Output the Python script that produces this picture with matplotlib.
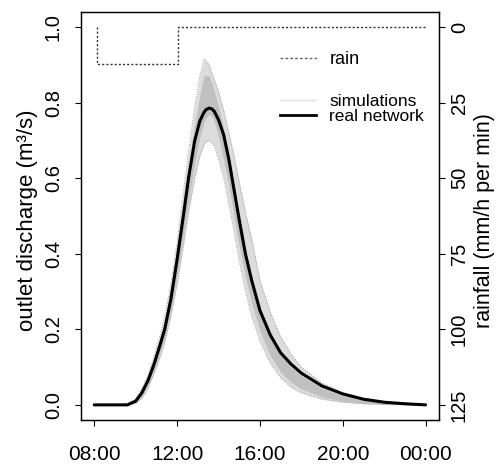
import matplotlib
matplotlib.use("Agg")
import matplotlib.pyplot as plt
from matplotlib.lines import Line2D

plt.rcParams["font.family"] = ["Liberation Sans", "DejaVu Sans"]

# time in hours (24 = midnight)
hours = [8.0, 9.0, 9.6, 10.0, 10.3, 10.6, 10.9, 11.2, 11.4, 11.7, 12.0, 12.3,
         12.55, 12.85, 13.1, 13.3, 13.4, 13.55, 13.7, 13.8, 14.0, 14.25,
         14.5, 14.75, 15.0, 15.3, 15.6, 16.0, 16.5, 17.0, 17.5, 18.0, 19.0,
         20.0, 21.0, 22.0, 23.0, 24.0]

# real network discharge (m3/s)
real_network = [0.0, 0.0, 0.0, 0.010, 0.032, 0.065, 0.11, 0.163, 0.20, 0.28,
                0.385, 0.50, 0.60, 0.70, 0.752, 0.775, 0.782, 0.786, 0.783,
                0.777, 0.755, 0.715, 0.65, 0.57, 0.49, 0.40, 0.33, 0.25,
                0.185, 0.138, 0.108, 0.084, 0.050, 0.029, 0.015, 0.007,
                0.003, 0.0]

# envelope of the simulations
sim_upper = [0.0, 0.0, 0.003, 0.015, 0.042, 0.08, 0.13, 0.19, 0.235, 0.32,
             0.43, 0.56, 0.67, 0.79, 0.87, 0.915, 0.912, 0.90, 0.875, 0.86,
             0.83, 0.78, 0.72, 0.66, 0.59, 0.51, 0.44, 0.33, 0.245, 0.18,
             0.135, 0.10, 0.058, 0.033, 0.018, 0.009, 0.004, 0.0]
sim_lower = [0.0, 0.0, 0.0, 0.004, 0.018, 0.045, 0.085, 0.13, 0.165, 0.235,
             0.32, 0.42, 0.51, 0.60, 0.66, 0.69, 0.697, 0.70, 0.692, 0.685,
             0.65, 0.60, 0.53, 0.46, 0.38, 0.30, 0.235, 0.17, 0.11, 0.072,
             0.047, 0.032, 0.015, 0.007, 0.003, 0.001, 0.0, 0.0]

# dense part of the simulations
sim_core_hi = [0.0, 0.0, 0.002, 0.012, 0.036, 0.07, 0.117, 0.17, 0.21, 0.29,
               0.395, 0.515, 0.62, 0.74, 0.82, 0.87, 0.873, 0.87, 0.85, 0.83,
               0.79, 0.73, 0.66, 0.58, 0.50, 0.41, 0.335, 0.255, 0.185,
               0.135, 0.10, 0.077, 0.044, 0.024, 0.012, 0.005, 0.002, 0.0]
sim_core_lo = [0.0, 0.0, 0.0, 0.006, 0.024, 0.055, 0.095, 0.145, 0.18, 0.255,
               0.345, 0.45, 0.54, 0.64, 0.71, 0.75, 0.76, 0.77, 0.763, 0.75,
               0.71, 0.65, 0.58, 0.50, 0.42, 0.34, 0.27, 0.195, 0.13, 0.087,
               0.06, 0.042, 0.021, 0.010, 0.005, 0.002, 0.001, 0.0]

# rain (mm/h), step series
rain_hours = [8.15, 8.15, 12.05, 24.0]
rain_mm = [0, 12, 0, 0]

x_ticks = [8, 12, 16, 20, 24]
x_tick_labels = ["08:00", "12:00", "16:00", "20:00", "00:00"]
y_ticks = [0.0, 0.2, 0.4, 0.6, 0.8, 1.0]
rain_ticks = [0, 25, 50, 75, 100, 125]


def salvar_figura(nome_arquivo):
    plt.savefig(nome_arquivo, dpi=100)
    plt.close()


def grafico_hidrograma():
    fig = plt.figure(figsize=(4.97, 4.68))
    ax = fig.add_axes([0.163, 0.1026, 0.72, 0.8714])

    ax.fill_between(hours, sim_lower, sim_upper, color="#dcdcdc", lw=0)
    ax.fill_between(hours, sim_core_lo, sim_core_hi, color="#c0c0c0", lw=0)
    ax.plot(hours, sim_upper, color="#9a9a9a", lw=0.7, ls=(0, (1, 1.5)))
    ax.plot(hours, sim_lower, color="#9a9a9a", lw=0.7, ls=(0, (1, 1.5)))
    ax.plot(hours, real_network, color="black", lw=2.2,
            solid_joinstyle="round", solid_capstyle="round")

    ax.set_xlim(8 - 0.64, 24 + 0.64)
    ax.set_ylim(-0.04, 1.04)
    ax.set_xticks(x_ticks)
    ax.set_xticklabels(x_tick_labels)
    ax.set_yticks(y_ticks)
    ax.set_yticklabels([f"{v:.1f}" for v in y_ticks], rotation=90,
                       va="center")
    ax.tick_params(axis="x", labelsize=15, length=4, width=0.8, pad=14)
    ax.tick_params(axis="y", labelsize=14.5, length=4, width=0.8, pad=9)
    ax.set_ylabel("outlet discharge (m³/s)", fontsize=16)
    ax.yaxis.set_label_coords(-0.12, 0.49)

    ax2 = ax.twinx()
    ax2.plot(rain_hours, rain_mm, color="#333333", lw=1.0,
             ls=(0, (1.5, 1.5)), drawstyle="steps-post")
    ax2.set_ylim(130, -5)
    ax2.set_yticks(rain_ticks)
    ax2.set_yticklabels([str(v) for v in rain_ticks], rotation=90,
                        va="center")
    ax2.tick_params(axis="y", labelsize=14.5, length=4, width=0.8, pad=4)
    ax2.set_ylabel("rainfall (mm/h per min)", fontsize=15.5, rotation=90)
    ax2.yaxis.set_label_coords(1.098, 0.49)

    for a in (ax, ax2):
        for s in a.spines.values():
            s.set_linewidth(0.9)

    h_rain = Line2D([], [], color="#666666", lw=1.0, ls=(0, (2, 1.5)))
    h_sim = Line2D([], [], color="#e4e4e4", lw=1.0)
    h_real = Line2D([], [], color="black", lw=2.0)

    leg1 = ax2.legend([h_rain], ["rain"], loc="upper left",
                      bbox_to_anchor=(0.556, 0.905), frameon=False,
                      fontsize=13, borderpad=0, borderaxespad=0,
                      handlelength=2.05, handletextpad=0.7)
    ax2.add_artist(leg1)
    ax2.legend([h_sim, h_real], ["simulations", "real network"],
               loc="upper left", bbox_to_anchor=(0.556, 0.80),
               frameon=False, fontsize=12.5, borderpad=0, borderaxespad=0,
               handlelength=2.1, handletextpad=0.75, labelspacing=0.0)

    salvar_figura("out.png")


grafico_hidrograma()
